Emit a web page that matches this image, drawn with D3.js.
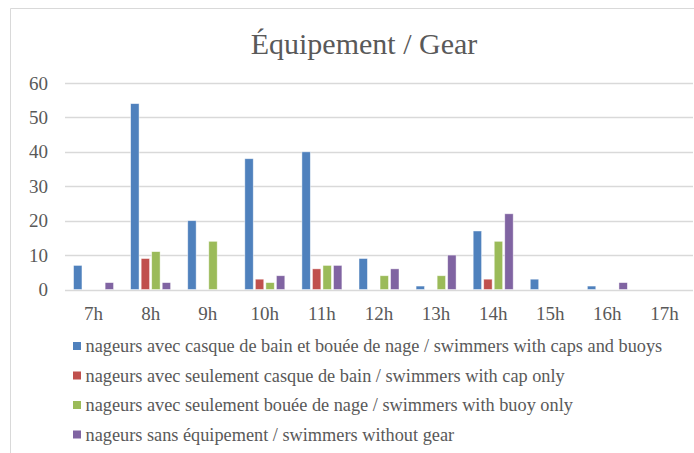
<!DOCTYPE html>
<html>
<head>
<meta charset="utf-8">
<script src="https://cdn.jsdelivr.net/npm/d3@7"></script>
<style>
  body { margin: 0; background: #fff; }
  svg text { font-family: 'Liberation Serif', serif !important; }
</style>
</head>
<body>
<script>
var hours = ['7h', '8h', '9h', '10h', '11h', '12h', '13h', '14h', '15h', '16h', '17h'];
var capsAndBuoys = [7, 54, 20, 38, 40, 9, 1, 17, 3, 1, 0];
var capOnly      = [0, 9, 0, 3, 6, 0, 0, 3, 0, 0, 0];
var buoyOnly     = [0, 11, 14, 2, 7, 4, 4, 14, 0, 0, 0];
var noGear       = [2, 2, 0, 4, 7, 6, 10, 22, 0, 2, 0];
var seriesNames = [
  'nageurs avec casque de bain et bouée de nage / swimmers with caps and buoys',
  'nageurs avec seulement casque de bain / swimmers with cap only',
  'nageurs avec seulement bouée de nage / swimmers with buoy only',
  'nageurs sans équipement / swimmers without gear'
];
var yTicks = [0, 10, 20, 30, 40, 50, 60];

var colors = ['#4f81bd', '#c0504d', '#9bbb59', '#8064a2'];
var series = [capsAndBuoys, capOnly, buoyOnly, noGear].map(function(vals, i) {
  return { name: seriesNames[i], color: colors[i], values: vals };
});

var width = 694, height = 453;
var plot = { left: 65, right: 693, top: 83, bottom: 289.5 };
var FONT = "'Liberation Serif', serif";

var svg = d3.select('body').append('svg')
    .attr('width', width)
    .attr('height', height);

// chart frame (only top and left edges are visible in the crop)
svg.append('path')
    .attr('d', 'M10.5,453 V8.5 H694')
    .attr('fill', 'none')
    .attr('stroke', '#d9d9d9');

svg.append('text')
    .attr('x', 364)
    .attr('y', 54)
    .attr('text-anchor', 'middle')
    .style('font-family', FONT, 'important')
    .style('font-size', '30px')
    .style('fill', '#595959')
    .text('Équipement / Gear');

var x = d3.scaleBand().domain(hours).range([plot.left, plot.right]);
var y = d3.scaleLinear().domain([0, 60]).range([plot.bottom, plot.top]);
var inner = d3.scaleBand().domain(d3.range(4)).range([-20, 20]).paddingInner(0.2);

svg.selectAll('.grid')
    .data(yTicks)
  .enter().append('line')
    .attr('class', 'grid')
    .attr('x1', plot.left)
    .attr('x2', plot.right)
    .attr('y1', function(d) { return Math.round(y(d)) + 0.5; })
    .attr('y2', function(d) { return Math.round(y(d)) + 0.5; })
    .attr('stroke', '#d9d9d9')
    .attr('stroke-width', 1.5);

svg.selectAll('.ytick')
    .data(yTicks)
  .enter().append('text')
    .attr('class', 'ytick')
    .attr('x', 48)
    .attr('y', function(d) { return y(d); })
    .attr('dy', '0.35em')
    .attr('text-anchor', 'end')
    .style('font-family', FONT, 'important')
    .style('font-size', '19px')
    .style('fill', '#595959')
    .text(function(d) { return d; });

svg.selectAll('.xtick')
    .data(hours)
  .enter().append('text')
    .attr('class', 'xtick')
    .attr('x', function(d) { return x(d) + x.bandwidth() / 2; })
    .attr('y', 320)
    .attr('text-anchor', 'middle')
    .style('font-family', FONT, 'important')
    .style('font-size', '19px')
    .style('fill', '#595959')
    .text(function(d) { return d; });

var groups = svg.selectAll('.series')
    .data(series)
  .enter().append('g')
    .attr('class', 'series')
    .attr('fill', function(d) { return d.color; });

groups.each(function(s, si) {
  d3.select(this).selectAll('rect')
      .data(s.values.map(function(v, i) { return { hour: hours[i], value: v }; })
                    .filter(function(d) { return d.value > 0; }))
    .enter().append('rect')
      .attr('x', function(d) { return x(d.hour) + x.bandwidth() / 2 + inner(si); })
      .attr('width', inner.bandwidth())
      .attr('y', function(d) { return y(d.value); })
      .attr('height', function(d) { return plot.bottom - y(d.value); })
      .attr('stroke', '#fff')
      .attr('stroke-opacity', 0.6)
      .attr('stroke-width', 0.75);
});

var legend = svg.selectAll('.legend')
    .data(series)
  .enter().append('g')
    .attr('class', 'legend')
    .attr('transform', function(d, i) { return 'translate(73,' + (346 + i * 29.5) + ')'; });

legend.append('rect')
    .attr('x', 0)
    .attr('y', -4)
    .attr('width', 8)
    .attr('height', 8)
    .attr('fill', function(d) { return d.color; });

legend.append('text')
    .attr('x', 12.5)
    .attr('dy', '0.35em')
    .style('font-family', FONT, 'important')
    .style('font-size', '18.3px')
    .style('fill', '#595959')
    .text(function(d) { return d.name; });
</script>
</body>
</html>
